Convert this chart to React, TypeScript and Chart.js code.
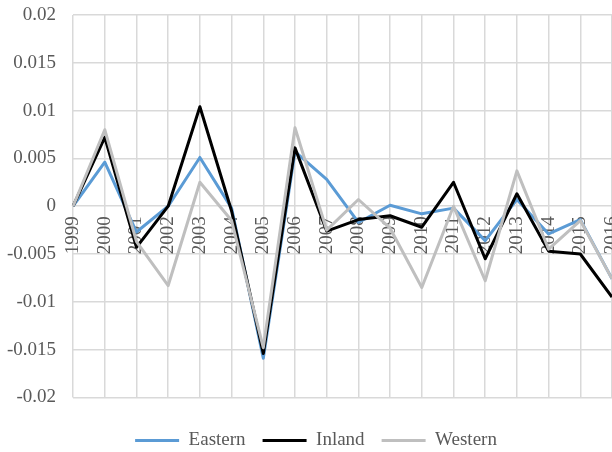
import React, { useEffect, useRef } from "react";
import { Chart, registerables } from "chart.js";

Chart.register(...registerables);

const years = ["1999", "2000", "2001", "2002", "2003", "2004", "2005", "2006", "2007", "2008", "2009", "2010", "2011", "2012", "2013", "2014", "2015", "2016"];
const eastern = [0, 0.0046, -0.0027, 0, 0.0051, -0.0002, -0.0159, 0.0057, 0.0028, -0.0017, 0.0001, -0.0008, -0.0002, -0.0036, 0.0007, -0.0029, -0.0014, -0.0076];
const inland = [0, 0.0072, -0.0043, 0, 0.0104, -0.0005, -0.0154, 0.0061, -0.0026, -0.0014, -0.001, -0.0022, 0.0025, -0.0055, 0.0013, -0.0047, -0.005, -0.0095];
const western = [0, 0.008, -0.0037, -0.0083, 0.0025, -0.0015, -0.0148, 0.0082, -0.0025, 0.0007, -0.0023, -0.0085, 0, -0.0078, 0.0037, -0.0045, -0.0015, -0.0076];
const yMin = -0.02;
const yMax = 0.02;
const yStep = 0.005;

const FONT = "'Liberation Serif', 'Times New Roman', serif";
const TEXT = "#595959";
const GRID = "#d9d9d9";

const legendShift = {
  id: "legendShift",
  afterLayout(chart: any) {
    const l = chart.legend;
    if (l) {
      l.left += 15;
      l.right += 15;
    }
  },
};

export default function App() {
  const ref = useRef<HTMLCanvasElement>(null);
  useEffect(() => {
    if (!ref.current) return;
    const chart = new Chart(ref.current, {
      type: "line",
      data: {
        labels: years,
        datasets: [
          { label: "Eastern", data: eastern, borderColor: "#5b9bd5", backgroundColor: "#5b9bd5", borderWidth: 3, pointRadius: 0, tension: 0, borderJoinStyle: "round", order: 3 },
          { label: "Inland", data: inland, borderColor: "#000000", backgroundColor: "#000000", borderWidth: 3, pointRadius: 0, tension: 0, borderJoinStyle: "round", order: 2 },
          { label: "Western", data: western, borderColor: "#bfbfbf", backgroundColor: "#bfbfbf", borderWidth: 3, pointRadius: 0, tension: 0, borderJoinStyle: "round", order: 1 },
        ],
      },
      plugins: [legendShift],
      options: {
        animation: false,
        responsive: false,
        maintainAspectRatio: false,
        layout: { autoPadding: false, padding: { left: -10, right: 0, top: 15, bottom: -8 } },
        scales: {
          x: {
            position: { y: 0 } as any,
            offset: false,
            grid: { color: GRID, lineWidth: 1.5, drawTicks: false },
            border: { display: false },
            ticks: { color: TEXT, font: { family: FONT, size: 19 }, maxRotation: 90, minRotation: 90, padding: 10, autoSkip: false },
            afterFit: (s: any) => {
              s.paddingLeft = 0;
              s.paddingRight = 0;
              s.paddingTop = 0;
              s.paddingBottom = 0;
            },
          },
          gap: {
            type: "category",
            axis: "x",
            position: "bottom",
            offset: false,
            grid: { display: false, drawTicks: false },
            border: { display: false },
            ticks: { display: false },
            afterFit: (s: any) => {
              s.height = 16.6;
              s.paddingLeft = 0;
              s.paddingRight = 0;
            },
          },
          y: {
            min: yMin,
            max: yMax,
            grid: { color: GRID, lineWidth: 1.5, drawTicks: false },
            border: { display: false },
            ticks: {
              stepSize: yStep,
              color: TEXT,
              font: { family: FONT, size: 19 },
              padding: 17,
              callback: (v: any) => String(Number(Number(v).toFixed(3))),
            },
            afterFit: (s: any) => {
              s.paddingTop = 0;
              s.paddingBottom = 0;
            },
          },
        } as any,
        plugins: {
          tooltip: { enabled: false },
          legend: {
            position: "bottom",
            labels: {
              usePointStyle: true,
              pointStyle: "line",
              pointStyleWidth: 44,
              color: TEXT,
              font: { family: FONT, size: 19 },
              padding: 17,
              sort: (a: any, b: any) => a.datasetIndex - b.datasetIndex,
            },
          },
        },
      },
    });
    return () => chart.destroy();
  }, []);
  return (
    <div style={{ position: "fixed", left: 0, top: 0, width: 612, height: 452, background: "#fff", overflow: "hidden" }}>
      <canvas ref={ref} width={612} height={452} style={{ width: 612, height: 452, display: "block" }} />
    </div>
  );
}
